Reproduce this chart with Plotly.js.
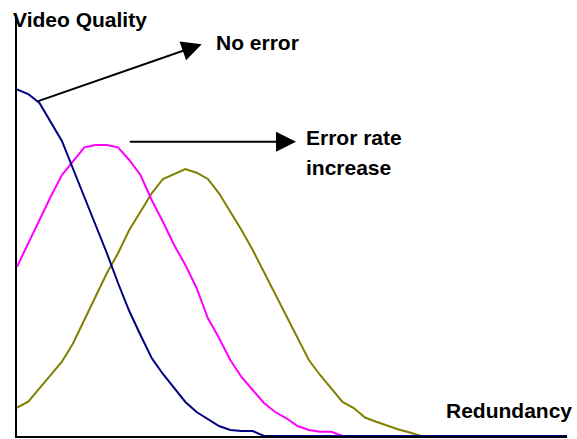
<!DOCTYPE html>
<html><head><meta charset="utf-8">
<script src="https://cdn.plot.ly/plotly-3.0.1.min.js"></script>
<style>html,body{margin:0;padding:0;background:#fff;}#chart{width:577px;height:439px;}</style>
</head><body><div id="chart"></div>
<script>
// Redundancy steps (x categories, index positions)
const redundancy = [0,1,2,3,4,5,6,7,8,9,10,11,12,13,14,15,16,17,18,19,20,21,22,23,24,25,26,27,28,29,30,31,32,33,34,35,36,37,38,39,40,41,42,43,44,45,46,47,48,49];
// Video quality, curve "No error" (navy)
const qualityNoError = [346.7,342,333,314.3,295,267,239,211,183,153,125,101,78,62,48,34,24,17,10,6,5,5,0,0,0,0,0,0,0,0,0,0,0,0,0,0,0,0,0,0,0,0,0,0,0,0,0,0,0,0];
// Video quality, medium error rate (magenta)
const qualityMidError = [169.3,192.7,216,239.3,261,275,288.7,291,291,288.7,276,261,236,214.3,191,171,148,118,98,76,59,46,33,24,17.7,10,6,4.3,4.3,0,0,0,0,0,0,0,0,0,0,0,0,0,0,0,0,0,0,0,0,0];
// Video quality, high error rate (olive)
const qualityHighError = [28.3,34.3,47.7,61,74.3,92.7,116,139.3,162.7,182.7,206,224.3,242.7,257,262,267,263.3,257,242.7,224.3,206,186,164,142,120,98,76,61,47.7,34,28,18.5,14.3,10,6.5,3.5,0,0,0,0,0,0,0,0,0,0,0,0,0,0];
const labelY = "Video Quality";
const labelX = "Redundancy";
const labelNoError = "No error";
const labelErr1 = "Error rate";
const labelErr2 = "increase";

const W = 577, H = 439;
const M = {l:17, r:10, t:15, b:3};
const XMAX = 49, YMAX = 421;
const pw = W - M.l - M.r, ph = H - M.t - M.b;
const dx = p => (p - M.l) / pw * XMAX;
const dy = p => (H - M.b - p) / ph * YMAX;
const fx = p => (p - M.l) / pw;
const fy = p => (H - M.b - p) / ph;

const font = {family:'"Liberation Sans", Arial, sans-serif', size:21, color:'#000'};
function txt(t, px, py){
  return {text:'<b>'+t+'</b>', x:fx(px), y:fy(py), xref:'paper', yref:'paper', xanchor:'left', yanchor:'middle', showarrow:false, font:font};
}
function arrow(tx, ty, hx, hy){
  return {text:'', x:dx(hx), y:dy(hy), ax:dx(tx), ay:dy(ty), xref:'x', yref:'y', axref:'x', ayref:'y',
    showarrow:true, arrowhead:2, arrowsize:2, arrowwidth:2, arrowcolor:'#000', standoff:0};
}

const mk = (y, c) => ({x:redundancy, y:y, type:'scatter', mode:'lines', line:{color:c, width:2}, hoverinfo:'skip'});
const data = [mk(qualityHighError,'#808000'), mk(qualityMidError,'#ff00ff'), mk(qualityNoError,'#000080')];

const ax = {showgrid:false, zeroline:false, showline:true, linecolor:'#000', linewidth:2, showticklabels:false, ticks:'', layer:'below traces', fixedrange:true};
const layout = {
  width:W, height:H, margin:{l:M.l, r:M.r, t:M.t, b:M.b, pad:0},
  paper_bgcolor:'#fff', plot_bgcolor:'#fff', showlegend:false,
  xaxis:Object.assign({range:[0,XMAX]}, ax),
  yaxis:Object.assign({range:[0,YMAX]}, ax),
  annotations:[
    txt(labelY, 10.5, 19.2),
    txt(labelNoError, 214.3, 42.5),
    txt(labelErr1, 304.3, 137.5),
    txt(labelErr2, 304.3, 167.5),
    txt(labelX, 443.7, 410.5),
    arrow(36.7, 101.7, 201.7, 44.3),
    arrow(128.3, 141.7, 296, 141.7)
  ]
};
Plotly.newPlot('chart', data, layout, {staticPlot:true, displayModeBar:false});
</script></body></html>
